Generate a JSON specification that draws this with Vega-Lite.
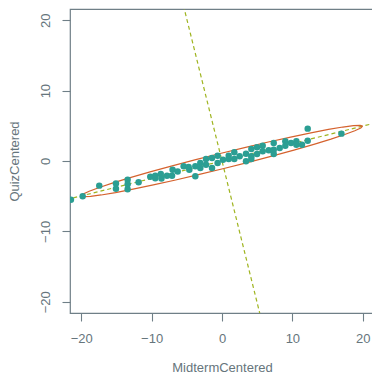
{
  "$schema": "https://vega.github.io/schema/vega-lite/v6.json",
  "autosize": "none",
  "width": 304,
  "height": 304,
  "padding": {"left": 70, "top": 9, "right": 0, "bottom": 62},
  "background": "white",
  "config": {
    "font": "Liberation Sans",
    "view": {"stroke": "#6f7f87", "strokeWidth": 1.2},
    "axis": {
      "domain": false, "grid": false,
      "tickColor": "#6f7f87", "tickSize": 8, "tickWidth": 1.1,
      "labelColor": "#66757c", "labelFontSize": 13,
      "titleColor": "#66757c", "titleFontSize": 13, "titleFontWeight": "normal"
    }
  },
  "datasets": {
    "pts": [
      {"x": -21.47, "y": -5.5}, {"x": -19.8, "y": -5.02}, {"x": -17.44, "y": -3.5}, {"x": -15.07, "y": -3.18}, {"x": -15.07, "y": -3.93},
      {"x": -13.41, "y": -2.65}, {"x": -13.41, "y": -3.3}, {"x": -13.41, "y": -4.0}, {"x": -11.85, "y": -3.03}, {"x": -10.19, "y": -2.23},
      {"x": -9.48, "y": -2.09}, {"x": -9.48, "y": -2.45}, {"x": -8.7, "y": -1.85}, {"x": -8.6, "y": -2.5}, {"x": -7.82, "y": -2.1},
      {"x": -7.02, "y": -1.24}, {"x": -7.1, "y": -2.09}, {"x": -6.3, "y": -1.5}, {"x": -5.45, "y": -0.76}, {"x": -4.74, "y": -0.86},
      {"x": -4.64, "y": -1.23}, {"x": -3.79, "y": -0.76}, {"x": -3.79, "y": -2.18}, {"x": -3.08, "y": -0.28}, {"x": -3.08, "y": -1.0},
      {"x": -2.27, "y": 0.28}, {"x": -2.27, "y": -0.52}, {"x": -1.42, "y": 0.43}, {"x": -1.42, "y": -1.0}, {"x": -0.62, "y": 0.76},
      {"x": -0.62, "y": -0.28}, {"x": 0.14, "y": 0.19}, {"x": 0.95, "y": 0.76}, {"x": 0.95, "y": 0.28}, {"x": 1.75, "y": 1.23},
      {"x": 1.75, "y": 0.28}, {"x": 2.51, "y": 0.66}, {"x": 3.41, "y": 1.04}, {"x": 3.41, "y": -0.05}, {"x": 4.17, "y": 1.71},
      {"x": 4.17, "y": 0.66}, {"x": 4.17, "y": 0.28}, {"x": 4.98, "y": 1.94}, {"x": 4.98, "y": 1.0}, {"x": 5.78, "y": 2.18},
      {"x": 5.78, "y": 1.37}, {"x": 6.64, "y": 1.52}, {"x": 7.35, "y": 2.56}, {"x": 7.35, "y": 1.61}, {"x": 7.35, "y": 1.0},
      {"x": 8.2, "y": 1.85}, {"x": 9.0, "y": 2.8}, {"x": 9.0, "y": 2.18}, {"x": 9.81, "y": 2.56}, {"x": 10.57, "y": 2.8},
      {"x": 10.57, "y": 2.32}, {"x": 11.37, "y": 2.32}, {"x": 12.18, "y": 4.6}, {"x": 12.18, "y": 2.89}, {"x": 16.97, "y": 3.89}
    ],
    "ellipse": [
      {"i": 0, "x": 19.98, "y": 4.957}, {"i": 1, "x": 19.63, "y": 5.067}, {"i": 2, "x": 18.68, "y": 5.023}, {"i": 3, "x": 17.17, "y": 4.827},
      {"i": 4, "x": 15.13, "y": 4.483}, {"i": 5, "x": 12.64, "y": 4.003}, {"i": 6, "x": 9.76, "y": 3.403}, {"i": 7, "x": 6.58, "y": 2.698},
      {"i": 8, "x": 3.21, "y": 1.912}, {"i": 9, "x": -0.265, "y": 1.067}, {"i": 10, "x": -3.73, "y": 0.19}, {"i": 11, "x": -7.08, "y": -0.692},
      {"i": 12, "x": -10.22, "y": -1.555}, {"i": 13, "x": -13.05, "y": -2.369}, {"i": 14, "x": -15.48, "y": -3.111}, {"i": 15, "x": -17.44, "y": -3.759},
      {"i": 16, "x": -18.87, "y": -4.293}, {"i": 17, "x": -19.72, "y": -4.697}, {"i": 18, "x": -19.98, "y": -4.957}, {"i": 19, "x": -19.63, "y": -5.067},
      {"i": 20, "x": -18.68, "y": -5.023}, {"i": 21, "x": -17.17, "y": -4.827}, {"i": 22, "x": -15.13, "y": -4.483}, {"i": 23, "x": -12.64, "y": -4.003},
      {"i": 24, "x": -9.76, "y": -3.403}, {"i": 25, "x": -6.58, "y": -2.698}, {"i": 26, "x": -3.21, "y": -1.912}, {"i": 27, "x": 0.265, "y": -1.067},
      {"i": 28, "x": 3.73, "y": -0.19}, {"i": 29, "x": 7.08, "y": 0.692}, {"i": 30, "x": 10.22, "y": 1.555}, {"i": 31, "x": 13.05, "y": 2.369},
      {"i": 32, "x": 15.48, "y": 3.111}, {"i": 33, "x": 17.44, "y": 3.759}, {"i": 34, "x": 18.87, "y": 4.293}, {"i": 35, "x": 19.72, "y": 4.697},
      {"i": 36, "x": 19.98, "y": 4.957}
    ],
    "axes": [
      {"line": "major", "i": 0, "x": -25, "y": -6.2}, {"line": "major", "i": 1, "x": 25, "y": 6.2},
      {"line": "minor", "i": 0, "x": -6.2, "y": 25}, {"line": "minor", "i": 1, "x": 6.2, "y": -25}
    ]
  },
  "encoding": {
    "x": {"field": "x", "type": "quantitative", "title": "MidtermCentered",
      "scale": {"domain": [-21.6, 21.6], "nice": false, "zero": false},
      "axis": {"values": [-20, -10, 0, 10, 20], "labelPadding": 11, "titlePadding": 16}},
    "y": {"field": "y", "type": "quantitative", "title": "QuizCentered",
      "scale": {"domain": [-21.6, 21.6], "nice": false, "zero": false},
      "axis": {"values": [-20, -10, 0, 10, 20], "labelAngle": 270, "labelAlign": "center", "labelBaseline": "bottom", "labelPadding": 10, "titlePadding": 18}}
  },
  "layer": [
    {"data": {"name": "axes"}, "mark": {"type": "line", "clip": true, "color": "#9fb41f", "strokeWidth": 1.2, "strokeDash": [4, 3]},
      "encoding": {"detail": {"field": "line"}, "order": {"field": "i"}}},
    {"data": {"name": "ellipse"}, "mark": {"type": "line", "clip": true, "color": "#d5622e", "strokeWidth": 1.2},
      "encoding": {"order": {"field": "i"}}},
    {"data": {"name": "pts"}, "mark": {"type": "circle", "clip": true, "color": "#2b9e93", "size": 42, "opacity": 1}}
  ]
}
